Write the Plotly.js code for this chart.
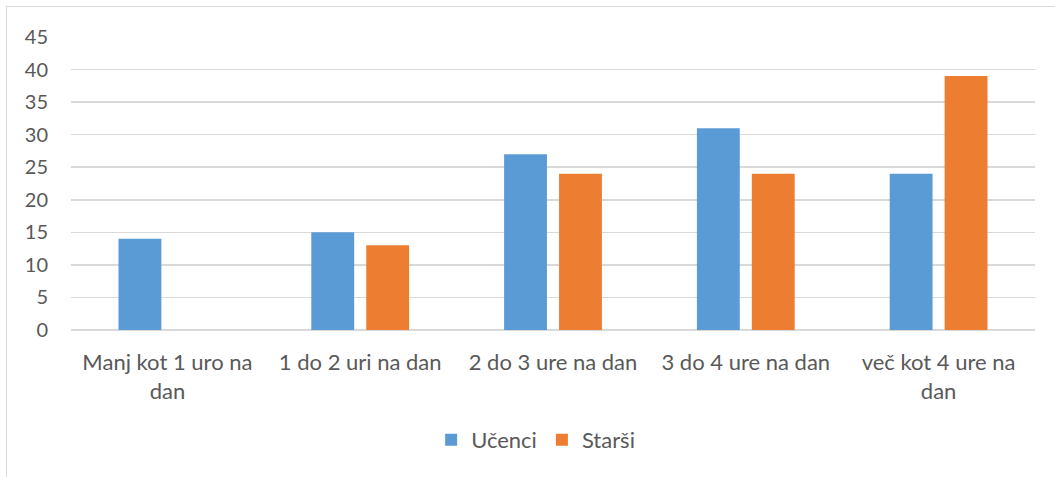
<!DOCTYPE html>
<html><head><meta charset="utf-8">
<script src="https://cdn.plot.ly/plotly-3.0.1.min.js"></script>
<style>
html,body{margin:0;padding:0;background:#fff;overflow:hidden;}
#wrap{position:relative;width:1055px;height:477px;}
#frame{position:absolute;left:6px;top:6px;width:1100px;height:520px;border:1.5px solid #d9d9d9;box-sizing:border-box;}
#chart{position:absolute;left:0;top:0;width:1055px;height:477px;}
</style></head>
<body><div id="wrap"><div id="frame"></div><div id="chart"></div></div>
<script>
const categories = ["Manj kot 1 uro na<br>dan","1 do 2 uri na dan","2 do 3 ure na dan","3 do 4 ure na dan","več kot 4 ure na<br>dan"];
const ucenci = [14, 15, 27, 31, 24];
const starsi = [0, 13, 24, 24, 39];
const yTicks = [0,5,10,15,20,25,30,35,40,45];

const fam = "Lato, 'Open Sans', sans-serif";
const font = {family:fam, size:20, color:"#595959"};
const bigFont = {family:fam, size:22, color:"#595959"};
const data = [
  {type:"bar", name:"Učenci", x:categories, y:ucenci, marker:{color:"#5b9bd5"}, hoverinfo:"none"},
  {type:"bar", name:"Starši", x:categories, y:starsi, marker:{color:"#ed7d31"}, hoverinfo:"none"}
];
const layout = {
  width:1055, height:477,
  margin:{l:71, r:20, t:37, b:146.5},
  paper_bgcolor:"rgba(0,0,0,0)", plot_bgcolor:"rgba(0,0,0,0)",
  font:font,
  barmode:"group", bargap:0.43, bargroupgap:0.22,
  showlegend:true,
  legend:{orientation:"h", x:0.482, xanchor:"center", y:-0.375, yanchor:"middle", font:bigFont, itemwidth:30, traceorder:"normal"},
  xaxis:{type:"category", showgrid:false, zeroline:false, showline:false, ticks:"", tickfont:bigFont, tickangle:0, ticklabelstandoff:17},
  yaxis:{range:[0,45], tickvals:yTicks, showgrid:true, gridcolor:"#d9d9d9", gridwidth:1.5, zeroline:true, zerolinecolor:"#d9d9d9", zerolinewidth:1.5, showline:false, ticks:"", tickfont:font, ticklabelstandoff:22}
};
Plotly.newPlot("chart", data, layout, {displayModeBar:false, staticPlot:true});
</script></body></html>
